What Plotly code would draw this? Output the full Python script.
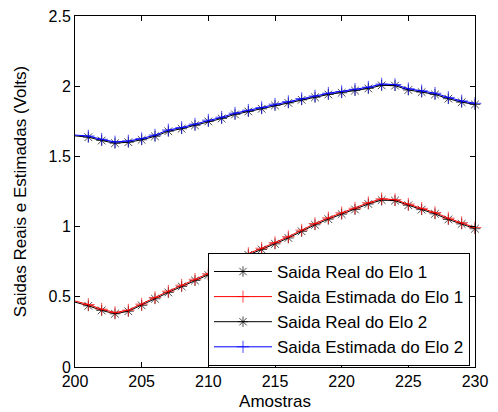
import plotly.graph_objects as go

amostras = list(range(200, 231))

elo1_real = [0.462, 0.436, 0.403, 0.379, 0.397, 0.439, 0.486, 0.531, 0.574, 0.616, 0.655,
             0.699, 0.751, 0.799, 0.837, 0.877, 0.919, 0.966, 1.013, 1.053, 1.089, 1.122,
             1.161, 1.189, 1.185, 1.152, 1.121, 1.091, 1.051, 1.019, 0.985]
elo1_est = [0.470, 0.445, 0.412, 0.388, 0.405, 0.448, 0.495, 0.540, 0.583, 0.625, 0.664,
            0.708, 0.760, 0.808, 0.846, 0.886, 0.928, 0.975, 1.022, 1.062, 1.098, 1.131,
            1.170, 1.198, 1.192, 1.160, 1.130, 1.100, 1.060, 1.028, 0.993]
elo2_real = [1.646, 1.637, 1.613, 1.594, 1.601, 1.618, 1.643, 1.679, 1.697, 1.721, 1.749,
             1.770, 1.799, 1.820, 1.839, 1.863, 1.881, 1.903, 1.921, 1.941, 1.953, 1.969,
             1.984, 2.006, 2.004, 1.973, 1.958, 1.941, 1.911, 1.886, 1.870]
elo2_est = [1.652, 1.645, 1.622, 1.603, 1.610, 1.627, 1.652, 1.688, 1.706, 1.730, 1.758,
            1.779, 1.808, 1.829, 1.848, 1.872, 1.890, 1.912, 1.930, 1.950, 1.962, 1.978,
            1.993, 2.015, 2.012, 1.982, 1.967, 1.950, 1.920, 1.895, 1.878]

nomes = ["Saida Real do Elo 1", "Saida Estimada do Elo 1",
         "Saida Real do Elo 2", "Saida Estimada do Elo 2"]
series = [elo1_real, elo1_est, elo2_real, elo2_est]
cores = ["#000000", "#ff0000", "#000000", "#0000ff"]
simbolos = ["asterisk-open", "cross-thin-open", "asterisk-open", "cross-thin-open"]

FONT = "Liberation Sans, Arial, Helvetica, sans-serif"

fig = go.Figure()
for nome, ys, cor, sim in zip(nomes, series, cores, simbolos):
    sizes = [0] + [9] * (len(amostras) - 1)
    fig.add_trace(go.Scatter(
        x=amostras, y=ys, name=nome, mode="lines+markers",
        line=dict(color=cor, width=1),
        marker=dict(symbol=sim, size=sizes, color=cor, line=dict(color=cor, width=1)),
        cliponaxis=False,
    ))

axis_common = dict(
    showline=True, linecolor="black", linewidth=1, mirror="allticks",
    ticks="inside", ticklen=5, tickcolor="black", showgrid=False, zeroline=False,
    tickfont=dict(family=FONT, size=16, color="black"), automargin=False,
    ticklabeloverflow="allow",
)

# the page body adds an 8px offset, so the figure is sized to fit inside the window
fig.update_layout(
    width=490, height=404,
    margin=dict(l=67, r=23, t=8, b=45),
    paper_bgcolor="white", plot_bgcolor="white",
    font=dict(family=FONT, size=16, color="black"),
    xaxis=dict(range=[200, 230], dtick=5, tick0=200,
               title=dict(text="Amostras", font=dict(size=17), standoff=5),
               **axis_common),
    yaxis=dict(range=[0, 2.5], dtick=0.5, tick0=0,
               title=dict(text="Saidas Reais e Estimadas (Volts)", font=dict(size=17), standoff=17),
               **axis_common),
    legend=dict(x=0.3325, y=0.003, xanchor="left", yanchor="bottom",
                bgcolor="white", bordercolor="black", borderwidth=1,
                font=dict(family=FONT, size=17, color="black"),
                itemwidth=58, tracegroupgap=0),
    showlegend=True,
)

fig.write_html("out.html")
